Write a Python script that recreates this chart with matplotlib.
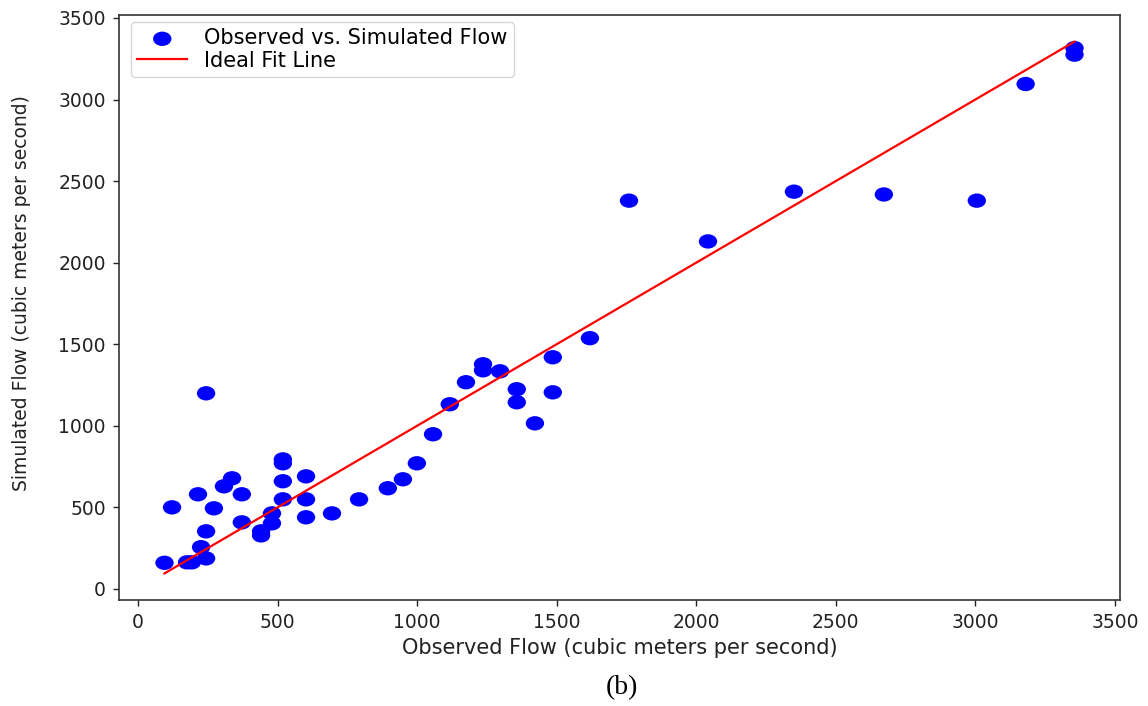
import matplotlib
matplotlib.use("Agg")
import matplotlib.pyplot as plt
from matplotlib.path import Path
from matplotlib.transforms import Affine2D

# ---- Data ----
observed = [95, 122, 176, 193, 226, 244, 244, 215, 272, 308,
            337, 372, 372, 244, 441, 441, 480, 480, 519, 519,
            519, 519, 602, 602, 602, 695, 792, 895, 949, 999,
            1057, 1117, 1175, 1236, 1236, 1297, 1357, 1357, 1422, 1486,
            1486, 1619, 1759, 2042, 2350, 2672, 3005, 3180, 3355, 3355]
simulated = [160, 500, 163, 163, 256, 187, 353, 580, 494, 629,
             678, 580, 408, 1199, 353, 328, 463, 402, 794, 770,
             660, 549, 690, 549, 439, 463, 549, 617, 672, 770,
             948, 1132, 1267, 1377, 1340, 1334, 1224, 1144, 1015, 1420,
             1205, 1537, 2380, 2130, 2435, 2418, 2380, 3095, 3315, 3275]

x_ticks = [0, 500, 1000, 1500, 2000, 2500, 3000, 3500]
y_ticks = [0, 500, 1000, 1500, 2000, 2500, 3000, 3500]

# the source image is stretched sideways, so the dots are ellipses
ellipse = Affine2D().scale(1.28, 1.0).transform_path(Path.unit_circle())

fig = plt.figure(figsize=(11.48, 7.06), dpi=100)
ax = fig.add_axes([119 / 1148, 106 / 706, 1001 / 1148, 585 / 706])

ax.scatter(observed, simulated, s=175, marker=ellipse, color="#0000ff",
           edgecolors="none", label="Observed vs. Simulated Flow")
lo, hi = min(observed), max(observed)
ax.plot([lo, hi], [lo, hi], color="#ff0000", linewidth=1.6, label="Ideal Fit Line")

ax.set_xticks(x_ticks)
ax.set_yticks(y_ticks)
ax.tick_params(labelsize=13.5, length=4.5, width=1.0, pad=5, colors="#222222")
for s in ax.spines.values():
    s.set_linewidth(1.2)
    s.set_color("#333333")

ax.set_xlabel("Observed Flow (cubic meters per second)", fontsize=15,
              color="#222222", labelpad=4)
ax.set_ylabel("Simulated Flow (cubic meters per second)", fontsize=13.5,
              color="#222222")
ax.yaxis.set_label_coords(-0.088, 0.525)

ax.legend(loc="upper left", bbox_to_anchor=(0.012, 0.988), borderaxespad=0,
          fontsize=15, labelspacing=0.12, borderpad=0.3, handlelength=2.4,
          handletextpad=0.8)

fig.text(622 / 1148, 1 - 688 / 706, "(b)", family="Liberation Serif",
         fontsize=20, ha="center", va="center")

fig.savefig("out.png", dpi=100)
